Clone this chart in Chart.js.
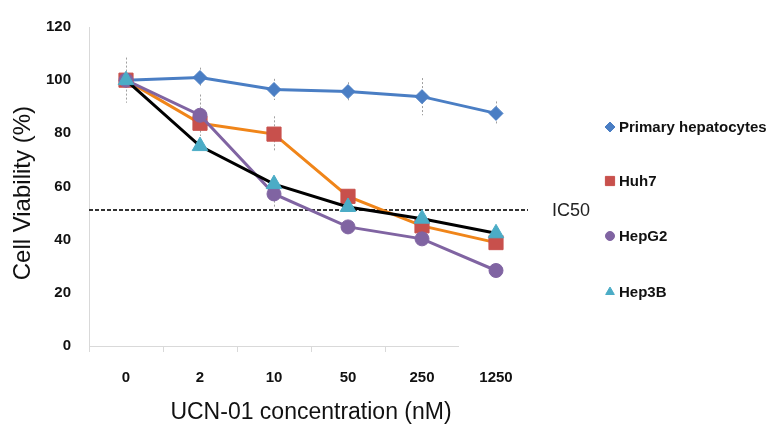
<!DOCTYPE html>
<html>
<head>
<meta charset="utf-8">
<script src="https://cdn.jsdelivr.net/npm/chart.js@4.4.1/dist/chart.umd.min.js"></script>
<style>
  body { margin: 0; background: #fff; }
  #wrap { width: 771px; height: 426px; }
</style>
</head>
<body>
<div id="wrap"><canvas id="line-chart" width="771" height="426"></canvas></div>
<script>
// concentrations (nM)
var concentrations = ["0", "2", "10", "50", "250", "1250"];

var primaryHep = [100, 101, 96.5, 95.7, 93.8, 87.5];
var huh7 = [100, 83.8, 79.7, 56.3, 45.2, 38.9];
var hepG2 = [100, 86.8, 57.2, 44.8, 40.3, 28.4];
var hep3B = [100, 75.2, 60.9, 52.3, 47.9, 42.4];

// error bars (+/-)
var primaryErr = [8.5, 3.7, 4, 3.5, 7, 4.5];
var huh7Err = [0, 0, 6.7, 2.5, 0, 1.5];
var hepG2Err = [0, 7.8, 5, 0, 0, 0];
var hep3BErr = [0, 0, 0, 0, 0, 0];

var ic50 = 51;
var yTicks = [0, 20, 40, 60, 80, 100, 120];

var errors = [primaryErr, huh7Err, hepG2Err, hep3BErr];
var FONT = "'Liberation Sans', Arial, sans-serif";

var extras = {
  id: 'extras',
  beforeDatasetsDraw: function(chart) {
    var ctx = chart.ctx, xs = chart.scales.x, ys = chart.scales.y, area = chart.chartArea;
    ctx.save();
    // x axis line (stops before last category, like the original)
    ctx.strokeStyle = '#d9d9d9';
    ctx.lineWidth = 1;
    var xEnd = (xs.getPixelForValue(4) + xs.getPixelForValue(5)) / 2;
    ctx.beginPath();
    ctx.moveTo(area.left, area.bottom + 0.5);
    ctx.lineTo(xEnd, area.bottom + 0.5);
    ctx.stroke();
    // error bars
    ctx.strokeStyle = 'rgba(150,150,150,0.9)';
    ctx.setLineDash([2, 2]);
    errors.forEach(function(errs, i) {
      var vals = chart.data.datasets[i].data;
      errs.forEach(function(e, j) {
        if (!e) return;
        var x = Math.round(xs.getPixelForValue(j)) + 0.5;
        ctx.beginPath();
        ctx.moveTo(x, ys.getPixelForValue(vals[j] + e));
        ctx.lineTo(x, ys.getPixelForValue(vals[j] - e));
        ctx.stroke();
      });
    });
    // IC50 line
    var y = Math.round(ys.getPixelForValue(ic50));
    ctx.setLineDash([4, 2]);
    ctx.strokeStyle = '#333';
    ctx.lineWidth = 2;
    ctx.beginPath();
    ctx.moveTo(area.left, y);
    ctx.lineTo(area.right - 5, y);
    ctx.stroke();
    ctx.restore();
  },
  afterDraw: function(chart) {
    var ctx = chart.ctx, ys = chart.scales.y;
    ctx.save();
    ctx.fillStyle = '#222';
    ctx.font = '18px ' + FONT;
    ctx.textBaseline = 'middle';
    ctx.textAlign = 'left';
    ctx.fillText('IC50', 552, ys.getPixelForValue(ic50) + 1);

    // legend on the right
    var rows = [127, 181, 236, 292];
    chart.data.datasets.forEach(function(ds, i) {
      ctx.fillStyle = ds.pointBackgroundColor;
      ctx.strokeStyle = ds.pointBackgroundColor;
      ctx.lineWidth = 1;
      ctx.setLineDash([]);
      Chart.helpers.drawPoint(ctx, {
        pointStyle: ds.pointStyle, radius: ds.legendRadius, rotation: 0, borderWidth: 1
      }, 610, rows[i]);
      ctx.font = 'bold 15px ' + FONT;
      ctx.fillStyle = '#111';
      ctx.textBaseline = 'middle';
      ctx.fillText(ds.label, 619, rows[i] + 1);
    });
    ctx.restore();
  }
};

new Chart(document.getElementById("line-chart"), {
  type: 'line',
  data: {
    labels: concentrations,
    datasets: [{
        label: "Primary hepatocytes",
        data: primaryHep,
        order: 4,
        borderColor: "#4a7ec4",
        pointBackgroundColor: "#4a7ec4",
        pointBorderColor: "#4a7ec4",
        pointStyle: 'rectRot',
        pointRadius: 7,
        legendRadius: 5
      }, {
        label: "Huh7",
        data: huh7,
        order: 3,
        borderColor: "#f08519",
        pointBackgroundColor: "#c8504c",
        pointBorderColor: "#c8504c",
        pointStyle: 'rect',
        pointRadius: 10,
        legendRadius: 6.5
      }, {
        label: "HepG2",
        data: hepG2,
        order: 2,
        borderColor: "#8064a2",
        pointBackgroundColor: "#8064a2",
        pointBorderColor: "#8064a2",
        pointStyle: 'circle',
        pointRadius: 7,
        legendRadius: 4.5
      }, {
        label: "Hep3B",
        data: hep3B,
        order: 1,
        borderColor: "#000000",
        pointBackgroundColor: "#4bacc6",
        pointBorderColor: "#4bacc6",
        pointStyle: 'triangle',
        pointRadius: 9,
        legendRadius: 5
      }
    ]
  },
  options: {
    responsive: false,
    animation: false,
    elements: {
      line: { borderWidth: 3, tension: 0 },
      point: { borderWidth: 1, hoverRadius: 8 }
    },
    layout: { padding: { left: 0, top: 22, right: 238, bottom: 0 } },
    plugins: {
      legend: { display: false },
      tooltip: { enabled: false },
      title: { display: false }
    },
    scales: {
      x: {
        offset: true,
        grid: {
          offset: true,
          drawOnChartArea: false,
          drawTicks: true,
          tickLength: 6,
          color: function(c) { return (c.index === undefined || c.index >= 5) ? 'rgba(0,0,0,0)' : '#d9d9d9'; }
        },
        border: { display: false },
        ticks: { color: '#111', font: { family: FONT, size: 15, weight: 'bold' }, padding: 17, maxRotation: 0 },
        title: {
          display: true, text: 'UCN-01 concentration (nM)', color: '#111',
          font: { family: FONT, size: 23 }, padding: { top: 0, bottom: 0 }
        },
        afterFit: function(s) { s.height = 80; }
      },
      y: {
        min: 0, max: 120,
        afterBuildTicks: function(s) { s.ticks = yTicks.map(function(v) { return { value: v }; }); },
        grid: { drawOnChartArea: false, drawTicks: false },
        border: { display: true, color: '#d9d9d9', width: 1 },
        ticks: { color: '#111', font: { family: FONT, size: 15, weight: 'bold' }, padding: 18 },
        title: {
          display: true, text: 'Cell Viability (%)  ', color: '#111',
          font: { family: FONT, size: 24 }, padding: { top: 9, bottom: 0 }
        },
        afterFit: function(s) { s.width = 89; }
      }
    }
  },
  plugins: [extras]
});
</script>
</body>
</html>
